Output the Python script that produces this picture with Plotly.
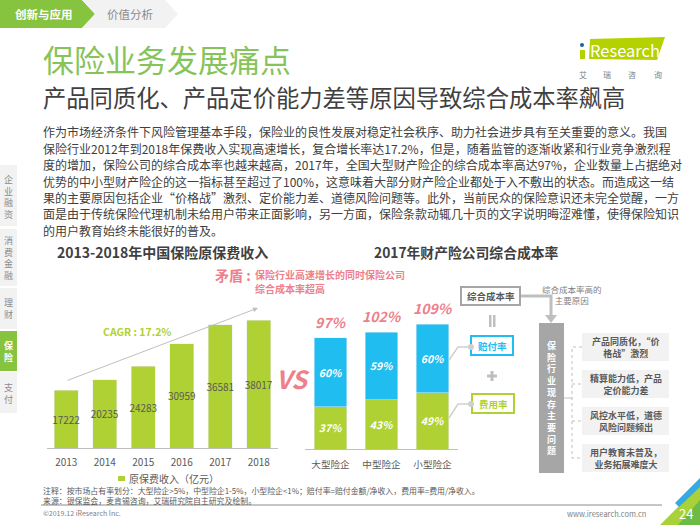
# -*- coding: utf-8 -*-
import plotly.graph_objects as go

W, H = 700, 525
FONT = "Noto Sans CJK SC"
GREEN = "#86c440"
LIME = "#b0d133"
BLUE = "#1fbdf0"
PINK = "#ee7f8b"
DARK = "#404040"
MID = "#595959"

# %% Data
years = ["2013", "2014", "2015", "2016", "2017", "2018"]
premium = [17222, 20235, 24283, 30959, 36581, 38017]

firm_types = ["大型险企", "中型险企", "小型险企"]
expense_rate = [37, 43, 49]
claim_rate = [60, 59, 60]
combined_rate = [97, 102, 109]

body_lines = [
    "作为市场经济条件下风险管理基本手段，保险业的良性发展对稳定社会秩序、助力社会进步具有至关重要的意义。我国",
    "保险行业2012年到2018年保费收入实现高速增长，复合增长率达17.2%，但是，随着监管的逐渐收紧和行业竞争激烈程",
    "度的增加，保险公司的综合成本率也越来越高，2017年，全国大型财产险企的综合成本率高达97%，企业数量上占据绝对",
    "优势的中小型财产险企的这一指标甚至超过了100%，这意味着大部分财产险企业都处于入不敷出的状态。而造成这一结",
    "果的主要原因包括企业“价格战”激烈、定价能力差、道德风险问题等。此外，当前民众的保险意识还未完全觉醒，一方",
    "面是由于传统保险代理机制未给用户带来正面影响，另一方面，保险条款动辄几十页的文字说明晦涩难懂，使得保险知识",
    "的用户教育始终未能很好的普及。",
]
problems = [
    "产品同质化，“价<br>格战”激烈",
    "精算能力低，产品<br>定价能力差",
    "风控水平低，道德<br>风险问题频出",
    "用户教育未普及，<br>业务拓展难度大",
]
side_tabs = ["企业融资", "消费金融", "理财", "保险", "支付"]


# %% Helpers, pixel position on the slide -> paper fraction
def px(x):
    return x / W


def py(y):
    return 1 - y / H


shapes = []
annotations = []


def text(x, y, s, size=10, color=DARK, bold=False, italic=False, anchor="left"):
    if bold:
        s = "<b>" + s + "</b>"
    if italic:
        s = "<i>" + s + "</i>"
    annotations.append(dict(x=px(x), y=py(y), xref="paper", yref="paper", text=s, showarrow=False,
                            xanchor=anchor, yanchor="middle", align=anchor,
                            font=dict(family=FONT, size=size, color=color)))


def rect(x0, y0, x1, y1, fill="rgba(0,0,0,0)", line=None, width=0):
    shapes.append(dict(type="rect", xref="paper", yref="paper", x0=px(x0), x1=px(x1), y0=py(y0), y1=py(y1),
                       fillcolor=fill, line=dict(color=line or fill, width=width)))


def poly(points, fill=None, line=None, width=0, dash="solid"):
    path = "M" + " L".join(str(px(a)) + "," + str(py(b)) for a, b in points)
    if fill:
        path += " Z"
    shapes.append(dict(type="path", xref="paper", yref="paper", path=path,
                       fillcolor=fill or "rgba(0,0,0,0)", line=dict(color=line or "rgba(0,0,0,0)", width=width, dash=dash)))


# %% Charts
fig = go.Figure()
fig.add_trace(go.Bar(x=years, y=premium, marker_color=LIME, width=0.63, text=[str(v) for v in premium],
                     textposition="inside", insidetextanchor="middle", textangle=0, constraintext="none",
                     textfont=dict(family=FONT, size=10, color=MID), xaxis="x", yaxis="y"))
fig.add_trace(go.Bar(x=firm_types, y=expense_rate, marker_color=LIME, width=0.63,
                     text=["<b><i>%d%%</i></b>" % v for v in expense_rate],
                     textposition="inside", insidetextanchor="middle", textangle=0, constraintext="none",
                     textfont=dict(family=FONT, size=10.5, color="white"), xaxis="x2", yaxis="y2"))
fig.add_trace(go.Bar(x=firm_types, y=claim_rate, marker_color=BLUE, width=0.63,
                     text=["<b><i>%d%%</i></b>" % v for v in claim_rate],
                     textposition="inside", insidetextanchor="middle", textangle=0, constraintext="none",
                     textfont=dict(family=FONT, size=10.5, color="white"), xaxis="x2", yaxis="y2"))

for cat, total in zip(firm_types, combined_rate):
    annotations.append(dict(x=cat, y=total, xref="x2", yref="y2", yshift=16, showarrow=False, yanchor="middle",
                            text="<b><i>%d%%</i></b>" % total, font=dict(family=FONT, size=14, color=PINK)))

# %% Header
poly([(0, 0), (82, 0), (95, 14), (82, 28), (0, 28)], fill=GREEN)
poly([(82, 0), (165, 0), (178, 14), (165, 28), (82, 28), (95, 14)], fill="#f2f2f2")
text(43.5, 14, "创新与应用", size=11.5, color="white", bold=True, anchor="center")
text(130, 14, "价值分析", size=11.5, color="#8c8c8c", anchor="center")
text(41, 58, "保险业务发展痛点", size=31, color="#86c45a")
text(41, 97, "产品同质化、产品定价能力差等原因导致综合成本率飙高", size=23.3, color=DARK)

# logo
poly([(590, 39), (665, 37), (657, 60), (589, 59)], fill="#b5d100")
rect(580, 50, 585, 59, fill="#b5d100")
shapes.append(dict(type="circle", xref="paper", yref="paper", x0=px(580), x1=px(584), y0=py(47), y1=py(43),
                   fillcolor="#1f5fa0", line=dict(width=0)))
text(625, 50, "Research", size=16.5, color="white", anchor="center")
for cx, ch in zip([583, 607, 632, 658], "艾瑞咨询"):
    text(cx, 74, ch, size=8, color="#808080", anchor="center")

# %% Side tabs
tab_spans = [(165, 226), (229, 286), (288, 329), (331, 371), (372, 413)]
tab_mid = [196.5, 257.5, 308.5, 351, 393]
for name, span, y in zip(side_tabs, tab_spans, tab_mid):
    active = name == "保险"
    rect(0, span[0], 17, span[1], fill=GREEN if active else "#f2f2f2")
    text(8.5, y, "<br>".join(name), size=9, color="white" if active else "#8c8c8c", bold=active, anchor="center")

# %% Body text
for y, line in zip([131.5, 148, 164.5, 181, 197.5, 214, 231], body_lines):
    text(41, y, line, size=12, color=DARK)

# %% Chart headings and callouts
text(162, 252, "2013-2018年中国保险原保费收入", size=14, color=DARK, bold=True, anchor="center")
text(372, 252, "2017年财产险公司综合成本率", size=13.8, color=DARK, bold=True)
text(213, 275, "矛盾 :", size=14, color=PINK, bold=True)
text(253, 274, "保险行业高速增长的同时保险公司", size=10, color=PINK, bold=True)
text(253, 288, "综合成本率超高", size=10, color=PINK, bold=True)
text(137, 331, "CAGR : 17.2%", size=10.5, color=LIME, bold=True, anchor="center")
text(293, 378, "VS", size=25, color=PINK, bold=True, italic=True, anchor="center")

annotations.append(dict(x=px(258), y=py(308), ax=-192, ay=73, xref="paper", yref="paper", axref="pixel", ayref="pixel",
                        text="", showarrow=True, arrowhead=2, arrowsize=1, arrowwidth=1, arrowcolor="#bfbfbf"))

# legend of the left chart
rect(118, 476, 125, 481, fill=LIME)
text(127, 478, "原保费收入（亿元）", size=10, color=MID)

# %% Right diagram
poly([(520, 296), (551, 296), (551, 316)], line="#bfbfbf", width=3)
poly([(545, 315), (557, 315), (551, 323)], fill="#bfbfbf")
rect(461, 287, 520, 305, fill="white", line="#a6a6a6", width=2)
text(490.5, 296, "综合成本率", size=9.5, color=MID, bold=True, anchor="center")
text(572, 294, "综合成本率高的<br>主要原因", size=8.5, color="#7f7f7f", anchor="center")
rect(489, 315, 491.5, 327, fill="#bfbfbf")
rect(493, 315, 495.5, 327, fill="#bfbfbf")
rect(471, 336, 513, 355, fill="white", line=BLUE, width=2)
text(492, 345.5, "赔付率", size=9.5, color=BLUE, bold=True, anchor="center")
rect(487, 374.5, 497, 377.5, fill="#bfbfbf")
rect(490.5, 371, 493.5, 381, fill="#bfbfbf")
rect(472, 394, 514, 413, fill="white", line=LIME, width=2)
text(493, 403.5, "费用率", size=9.5, color=LIME, bold=True, anchor="center")

for pts in ([(449, 360), (458, 347), (471, 347)], [(449, 418), (458, 404), (471, 404)]):
    poly(pts, line="#d0d0d0", width=1.5)
    shapes.append(dict(type="circle", xref="paper", yref="paper", x0=px(468), x1=px(474),
                       y0=py(pts[2][1] + 3), y1=py(pts[2][1] - 3), fillcolor="#d0d0d0", line=dict(width=0)))

rect(539, 323, 564, 473, fill="#a6a6a6")
text(551.5, 398, "<br>".join("保险行业现存主要问题"), size=9, color="white", bold=True, anchor="center")

poly([(582, 347), (572, 347), (572, 458), (582, 458)], line="#bfbfbf", width=1, dash="dot")
poly([(572, 384), (582, 384)], line="#bfbfbf", width=1, dash="dot")
poly([(572, 421), (582, 421)], line="#bfbfbf", width=1, dash="dot")
poly([(564, 398), (572, 398)], line="#bfbfbf", width=1)

for (y0, y1), label in zip([(333, 361), (370, 398), (407, 435), (444, 472)], problems):
    rect(582, y0, 669, y1, fill="#f2f2f2")
    text(625.5, (y0 + y1) / 2, label, size=9, color=MID, bold=True, anchor="center")

# %% Footer
text(41, 490, "注释：按市场占有率划分：大型险企>5%，中型险企1-5%，小型险企<1%；赔付率=赔付金额/净收入，费用率=费用/净收入。", size=7.9, color=MID)
text(41, 500, "来源：银保监会，麦肯锡咨询，艾瑞研究院自主研究及绘制。", size=7.9, color=MID)
poly([(41, 505), (662, 505)], line="#8c8c8c", width=1)
text(41, 513, "©2019.12 iResearch Inc.", size=7, color="#808080")
text(648, 513, "www.iresearch.com.cn", size=7.5, color="#808080", anchor="right")

poly([(660, 525), (679, 506), (700, 486), (700, 525)], fill="#a9d13c")
poly([(678, 525), (700, 500), (700, 525)], fill="#6dbb45")
poly([(675, 503), (700, 478), (700, 487), (679, 507)], fill="#36a9e1")
text(686, 513, "24", size=13, color="white", anchor="center")

# %% Layout
tick_font = dict(family=FONT, size=10, color=MID)
fig.update_layout(
    width=W, height=H, margin=dict(l=0, r=0, t=0, b=0), paper_bgcolor="white", plot_bgcolor="rgba(0,0,0,0)",
    barmode="stack", showlegend=False, shapes=shapes, annotations=annotations,
    xaxis=dict(domain=[px(47), px(278)], anchor="y", showline=True, linecolor="#bfbfbf", linewidth=1, showgrid=False,
               ticks="outside", ticklen=5, tickcolor="rgba(0,0,0,0)", tickfont=tick_font),
    yaxis=dict(domain=[py(448), py(300)], range=[0, 43957], visible=False),
    xaxis2=dict(domain=[px(305), px(458)], anchor="y2", showline=True, linecolor="#bfbfbf", linewidth=1, showgrid=False,
                ticks="outside", ticklen=6, tickcolor="rgba(0,0,0,0)", tickfont=dict(family=FONT, size=9.6, color=MID)),
    yaxis2=dict(domain=[py(449), py(300)], range=[0, 130], visible=False),
)

# the page body has a default margin, take it off so the slide sits at 0,0
fig.write_html("out.html", config={"displayModeBar": False}, post_script="document.body.style.margin='0';")
